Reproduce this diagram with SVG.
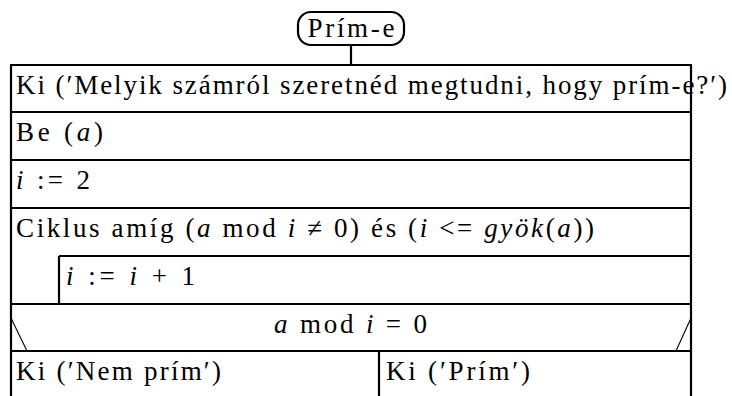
<svg xmlns="http://www.w3.org/2000/svg" width="732" height="396" viewBox="0 0 732 396">
<style>
  .ln { stroke: #000; stroke-width: 2.2; fill: none; }
  .dg { stroke: #000; stroke-width: 1.1; fill: none; }
  .t { font-size: 27px; fill: #000; }
  .it { font-style: italic; }
</style>
<rect width="732" height="396" fill="#fff"/>
<g id="start">
  <rect class="ln" x="298" y="12" width="106" height="33" rx="13" ry="13"/>
  <text class="t" font-family="Liberation Serif" x="351" y="37" text-anchor="middle" textLength="87">Prím-e</text>
</g>
<g id="connectors">
  <line class="ln" x1="351" y1="45" x2="351" y2="65"/>
</g>
<g id="frame">
  <line class="ln" x1="11" y1="65" x2="11" y2="396"/>
  <line class="ln" x1="691" y1="65" x2="691" y2="396"/>
</g>
<g id="out1">
  <line class="ln" x1="10" y1="65" x2="692" y2="65"/>
  <text class="t" font-family="Liberation Serif" x="16" y="94" textLength="711">Ki (′Melyik számról szeretnéd megtudni, hogy prím-e?′)</text>
</g>
<g id="in1">
  <line class="ln" x1="10" y1="112" x2="692" y2="112"/>
  <text class="t" font-family="Liberation Serif" x="16" y="141" textLength="87">Be (<tspan class="it">a</tspan>)</text>
</g>
<g id="assign1">
  <line class="ln" x1="10" y1="160" x2="692" y2="160"/>
  <text class="t" font-family="Liberation Serif" x="16" y="189" textLength="74"><tspan class="it">i</tspan> := 2</text>
</g>
<g id="loop">
  <line class="ln" x1="10" y1="208" x2="692" y2="208"/>
  <text class="t" font-family="Liberation Serif" x="16" y="237" textLength="578">Ciklus amíg (<tspan class="it">a</tspan> mod <tspan class="it">i</tspan> ≠ 0) és (<tspan class="it">i</tspan> &lt;= <tspan class="it">gyök</tspan>(<tspan class="it">a</tspan>))</text>
</g>
<g id="loopbody">
  <line class="ln" x1="59" y1="256" x2="692" y2="256"/>
  <line class="ln" x1="59" y1="256" x2="59" y2="304"/>
  <text class="t" font-family="Liberation Serif" x="66" y="285" textLength="129"><tspan class="it">i</tspan> := <tspan class="it">i</tspan> + 1</text>
</g>
<g id="branch">
  <line class="ln" x1="10" y1="304" x2="692" y2="304"/>
  <line class="dg" x1="11" y1="318" x2="27" y2="351"/>
  <line class="dg" x1="691" y1="318" x2="676" y2="351"/>
  <text class="t" font-family="Liberation Serif" x="274" y="333" textLength="153"><tspan class="it">a</tspan> mod <tspan class="it">i</tspan> = 0</text>
</g>
<g id="yes">
  <line class="ln" x1="10" y1="351" x2="692" y2="351"/>
  <text class="t" font-family="Liberation Serif" x="16" y="380" textLength="205">Ki (′Nem prím′)</text>
</g>
<g id="no">
  <line class="ln" x1="379" y1="351" x2="379" y2="396"/>
  <text class="t" font-family="Liberation Serif" x="386" y="380" textLength="144">Ki (′Prím′)</text>
</g>
</svg>
